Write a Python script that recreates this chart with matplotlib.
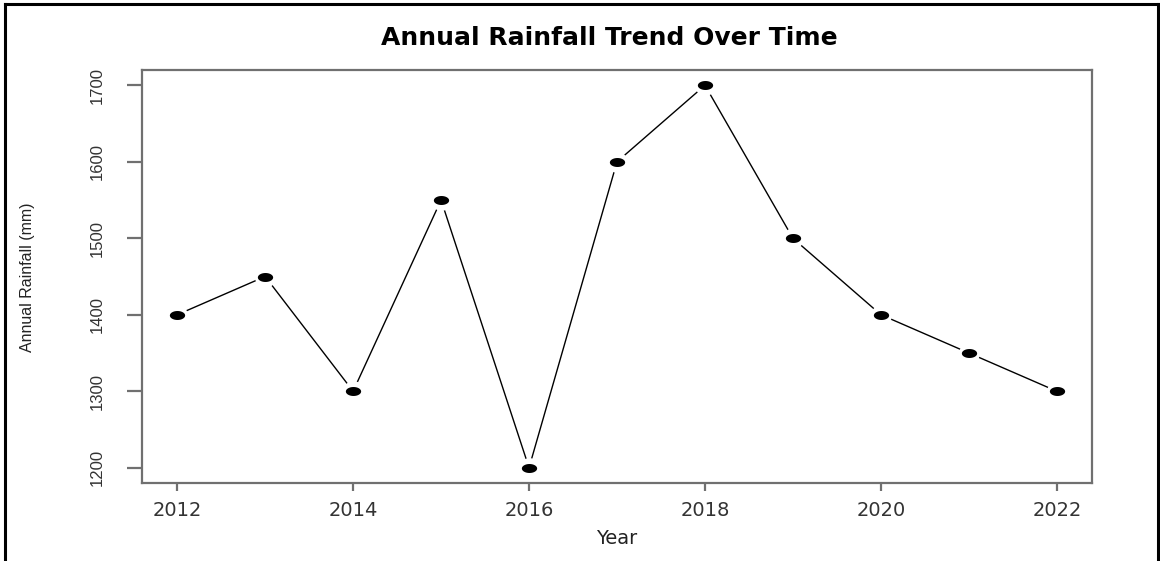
import numpy as np
import matplotlib.pyplot as plt
from matplotlib.lines import Line2D

years = [2012, 2013, 2014, 2015, 2016, 2017, 2018, 2019, 2020, 2021, 2022]
rainfall = [1400, 1450, 1300, 1550, 1200, 1600, 1700, 1500, 1400, 1350, 1300]
xticks = [2012, 2014, 2016, 2018, 2020, 2022]
yticks = [1200, 1300, 1400, 1500, 1600, 1700]

# flattened dot, like the R "pch=19" points
theta = np.linspace(0, 2 * np.pi, 60)
dot = np.column_stack([1.7 * np.cos(theta), np.sin(theta)])

fig = plt.figure(figsize=(11.6, 5.61), dpi=100)
ax = fig.add_axes([0.1224, 0.139, 0.819, 0.7362])

ax.plot(years, rainfall, color='black', lw=1.0, zorder=2)
# white halo gives the type="b" gap between line and point
ax.plot(years, rainfall, ls='none', marker='o', ms=15, mfc='white', mec='none', zorder=3)
ax.plot(years, rainfall, ls='none', marker=dot, ms=11, mfc='black', mec='none', zorder=4)

ax.set_xlim(2011.6, 2022.4)
ax.set_ylim(1180, 1720)
ax.set_xticks(xticks)
ax.set_yticks(yticks)
for s in ax.spines.values():
    s.set_color('#707070')
    s.set_linewidth(1.6)

ax.tick_params(axis='x', direction='out', length=6, width=1.6, color='#707070',
               pad=7, labelsize=14, labelcolor='#333333')
ax.tick_params(axis='y', direction='out', length=11, width=1.6, color='#707070',
               pad=16, labelsize=12, labelcolor='#333333')
for lab in ax.get_yticklabels():
    lab.set_rotation(90)
    lab.set_va('center')
    lab.set_family('Liberation Sans')

fig.text(609 / 1160, 1 - 38 / 561, 'Annual Rainfall Trend Over Time',
         ha='center', va='center', fontsize=18, fontweight='bold', color='black')
fig.text(617 / 1160, 1 - 539 / 561, 'Year', ha='center', va='center',
         fontsize=14, color='#222222')
fig.text(28 / 1160, 1 - 277 / 561, 'Annual Rainfall (mm)', ha='center', va='center',
         rotation=90, fontsize=11.5, color='#222222', family='Liberation Sans')

# black frame round the image (left, top, right)
W, H = 1160, 561
fig.add_artist(Line2D([5 / W, 5 / W], [0, 1 - 4 / H], color='black', lw=2.2))
fig.add_artist(Line2D([5 / W, 1158 / W], [1 - 4 / H, 1 - 4 / H], color='black', lw=2.2))
fig.add_artist(Line2D([1158 / W, 1158 / W], [0, 1 - 4 / H], color='black', lw=2.2))

fig.savefig('out.png', dpi=100)
